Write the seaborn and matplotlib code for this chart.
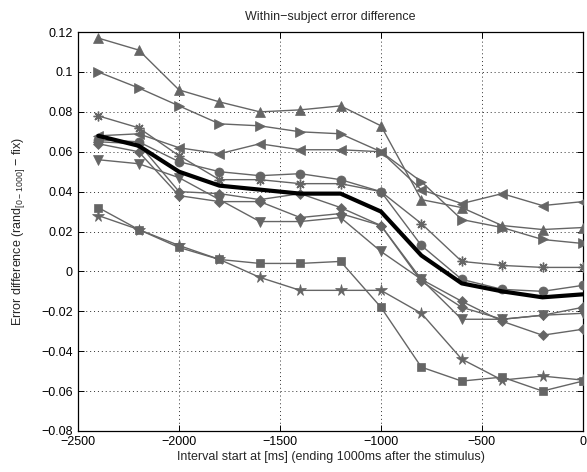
import numpy as np
import pandas as pd
import matplotlib
matplotlib.use("Agg")
import matplotlib.pyplot as plt
import seaborn as sns

# ---- data ----
x_vals = [-2400, -2200, -2000, -1800, -1600, -1400, -1200, -1000, -800, -600, -400, -200, 0]

s_up    = [0.117, 0.111, 0.091, 0.085, 0.080, 0.081, 0.083, 0.073, 0.036, 0.032, 0.023, 0.021, 0.022]
s_right = [0.100, 0.092, 0.083, 0.074, 0.073, 0.070, 0.069, 0.060, 0.045, 0.026, 0.022, 0.016, 0.014]
s_left  = [0.068, 0.069, 0.062, 0.059, 0.064, 0.061, 0.061, 0.060, 0.041, 0.034, 0.039, 0.033, 0.035]
s_ast   = [0.078, 0.072, 0.058, 0.046, 0.046, 0.044, 0.044, 0.040, 0.024, 0.005, 0.003, 0.002, 0.002]
s_circ  = [0.066, 0.065, 0.055, 0.050, 0.048, 0.049, 0.046, 0.040, 0.013, -0.004, -0.009, -0.010, -0.007]
s_dia1  = [0.065, 0.064, 0.040, 0.039, 0.036, 0.039, 0.032, 0.023, -0.004, -0.015, -0.025, -0.032, -0.029]
s_dia2  = [0.064, 0.060, 0.038, 0.035, 0.035, 0.027, 0.029, 0.023, -0.005, -0.018, -0.024, -0.022, -0.018]
s_down  = [0.056, 0.054, 0.047, 0.036, 0.025, 0.025, 0.027, 0.010, -0.004, -0.024, -0.024, -0.022, -0.021]
s_sq    = [0.032, 0.021, 0.012, 0.006, 0.004, 0.004, 0.005, -0.018, -0.048, -0.055, -0.053, -0.060, -0.055]
s_star  = [0.028, 0.021, 0.013, 0.006, -0.003, -0.0095, -0.0095, -0.0095, -0.021, -0.044, -0.0545, -0.0525, -0.0545]
s_mean  = [0.068, 0.063, 0.050, 0.043, 0.041, 0.039, 0.039, 0.030, 0.008, -0.006, -0.010, -0.013, -0.0115]

subjects = ["up", "right", "left", "ast", "circ", "dia1", "dia2", "down", "sq", "star"]
subject_values = [s_up, s_right, s_left, s_ast, s_circ, s_dia1, s_dia2, s_down, s_sq, s_star]

x_ticks = [-2500, -2000, -1500, -1000, -500, 0]
x_tick_labels = ["\u22122500", "\u22122000", "\u22121500", "\u22121000", "\u2212500", "0"]
y_ticks = [-0.08, -0.06, -0.04, -0.02, 0, 0.02, 0.04, 0.06, 0.08, 0.1, 0.12]
y_tick_labels = ["\u22120.08", "\u22120.06", "\u22120.04", "\u22120.02", "0", "0.02", "0.04",
                 "0.06", "0.08", "0.1", "0.12"]

title = "Within\u2212subject error difference"
xlabel = "Interval start at [ms] (ending 1000ms after the stimulus)"
ylabel = "Error difference (rand$_{[0\u22121000]}$ \u2212 fix)"

# ---- styling ----
sns.set_style("ticks")
plt.rcParams["font.family"] = ["Liberation Sans", "DejaVu Sans"]
plt.rcParams["mathtext.default"] = "regular"

marker_map = {
    "up": "^", "right": ">", "left": "<", "ast": (8, 2, 0), "circ": "o",
    "dia1": "D", "dia2": "D", "down": "v", "sq": "s", "star": "*",
}
size_map = {
    "up": 7.5, "right": 7.5, "left": 7.5, "ast": 7, "circ": 6.5,
    "dia1": 5.5, "dia2": 5.5, "down": 7.5, "sq": 6, "star": 8.5,
}

rows = []
for name, vals in zip(subjects, subject_values):
    for xv, yv in zip(x_vals, vals):
        rows.append({"subject": name, "x": xv, "y": yv})
df = pd.DataFrame(rows)
df_mean = pd.DataFrame({"x": x_vals, "y": s_mean})

fig = plt.figure(figsize=(5.87, 4.72), dpi=100)
ax = fig.add_axes([0.133, 0.087, 0.860, 0.845])

gray = "#656565"
for name in subjects:
    sub = df[df["subject"] == name]
    m = marker_map[name]
    sns.lineplot(data=sub, x="x", y="y", ax=ax, color=gray, linewidth=1.0,
                 marker=m, markersize=size_map[name], markeredgecolor=gray,
                 markerfacecolor=gray, markeredgewidth=1.0 if name == "ast" else 0.5,
                 estimator=None, legend=False, zorder=3)

sns.lineplot(data=df_mean, x="x", y="y", ax=ax, color="black", linewidth=3.0,
             estimator=None, legend=False, zorder=4)

ax.set_xlim(-2500, 0)
ax.set_ylim(-0.08, 0.12)
ax.set_xticks(x_ticks)
ax.set_xticklabels(x_tick_labels)
ax.set_yticks(y_ticks)
ax.set_yticklabels(y_tick_labels)

ax.grid(True, linestyle=(0, (1, 3)), color="#303030", linewidth=0.7)
ax.set_axisbelow(True)
for sp in ax.spines.values():
    sp.set_visible(True)
    sp.set_color("black")
    sp.set_linewidth(0.9)
ax.tick_params(direction="in", top=True, right=True, length=4, width=0.7,
               labelsize=9, colors="black", pad=4)

ax.set_title(title, fontsize=9, pad=9)
ax.set_xlabel(xlabel, fontsize=9, labelpad=2)
ax.set_ylabel(ylabel, fontsize=9, labelpad=10)

fig.savefig("out.png", dpi=100)
